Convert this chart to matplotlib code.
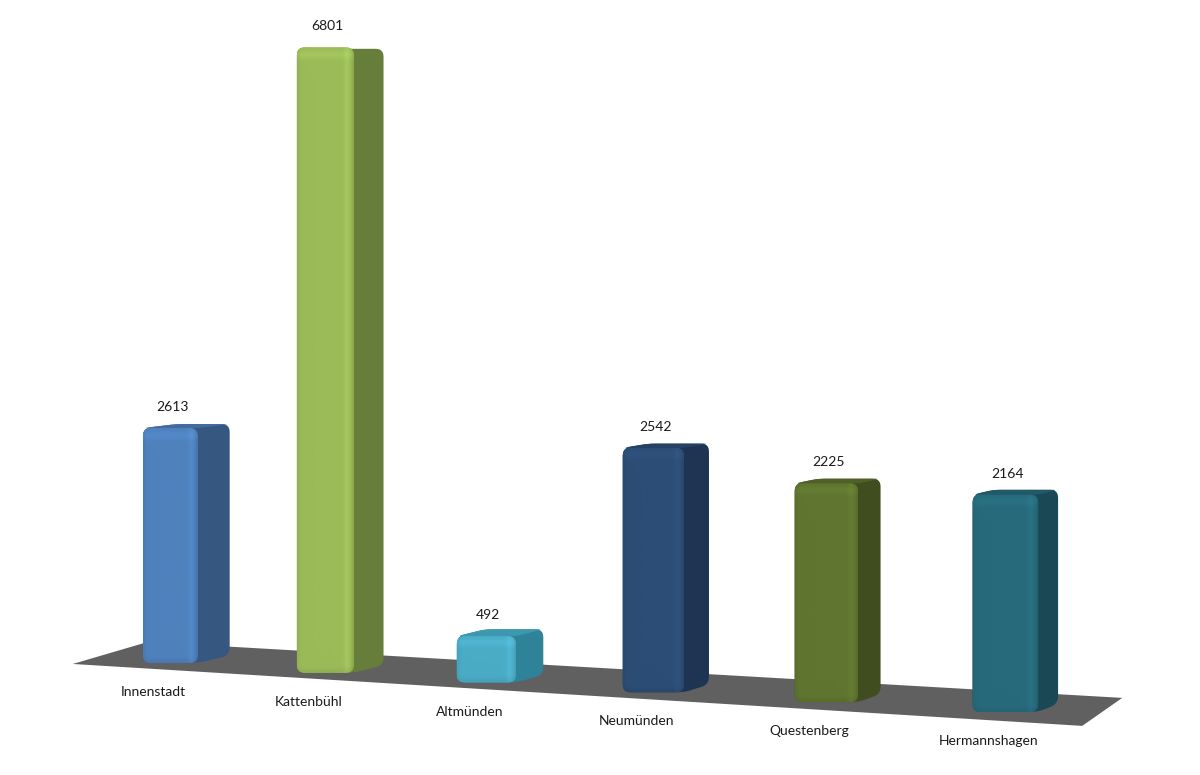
import numpy as np
import matplotlib.pyplot as plt
from matplotlib.patches import Polygon
from matplotlib.colors import to_rgb

categories = ['Innenstadt', 'Kattenbühl', 'Altmünden', 'Neumünden', 'Questenberg', 'Hermannshagen']
values = [2613, 6801, 492, 2542, 2225, 2164]
front_colors = ['#4F81BD', '#9BBB59', '#4BACC6', '#2C4D75', '#5F7530', '#276A7C']
side_colors = ['#36577F', '#677E3A', '#2F8398', '#1E3452', '#3F4D1F', '#1A4855']
floor_color = '#606060'

plt.rcParams['font.family'] = ['Lato', 'DejaVu Sans']


# pseudo 3D projection of the chart scene into pixel space
def x_front(u):
    return 95 + 149 * u + 3.0 * u ** 2


def y_base(u):
    return 658 + 9.8 * u


def v_scale(u):
    return 0.0888 + 0.0021 * u


def to_back(x, y, d=0.01427):
    return x + d * (2438 - x), y + d * (150 - y)


def rounded(pts, r):
    pts = np.asarray(pts, float)
    n = len(pts)
    out = []
    t = np.linspace(0, 1, 8)[:, None]
    for k in range(n):
        p0, p1, p2 = pts[k - 1], pts[k], pts[(k + 1) % n]
        l0 = np.linalg.norm(p0 - p1)
        l2 = np.linalg.norm(p2 - p1)
        if l0 < 1e-6 or l2 < 1e-6:
            out.append(p1[None, :])
            continue
        a = p1 + (p0 - p1) / l0 * min(r, l0 / 2)
        b = p1 + (p2 - p1) / l2 * min(r, l2 / 2)
        out.append((1 - t) ** 2 * a + 2 * (1 - t) * t * p1 + t ** 2 * b)
    return np.vstack(out)


fig = plt.figure(figsize=(12, 7.75), dpi=100)
ax = fig.add_axes([0, 0, 1, 1])
ax.set_xlim(0, 1200)
ax.set_ylim(775, 0)
ax.axis('off')

# floor
u0, u1 = -0.15, 5.92
fl = (x_front(u0), y_base(u0) + 7.5 + 0.4 * u0)
fr = (x_front(u1), y_base(u1) + 7.5 + 0.4 * u1)
bl = (fl[0] + 75, fl[1] - 22)
br = (fr[0] + 40, fr[1] - 28)
ax.add_patch(Polygon([fl, fr, br, bl], closed=True, fc=floor_color, ec='none', zorder=1))

hw = 0.18
for i, (cat, val) in enumerate(zip(categories, values)):
    uc = i + 0.5
    xl, xr = x_front(uc - hw), x_front(uc + hw)
    yb = y_base(uc)
    yt = yb - val * v_scale(uc)

    blt = to_back(xl, yt)
    brt = to_back(xr, yt)
    brb = to_back(xr, yb)

    # side silhouette
    sil = [(xl, yb), (xl, yt), blt, brt, brb, (xr, yb)]
    ax.add_patch(Polygon(rounded(sil, 8), closed=True, fc=side_colors[i], ec='none', zorder=2))

    # top face
    if brt[1] < yt:
        top = [(xl, yt), (xr, yt), brt, blt]
        topc = 0.5 * np.array(to_rgb(side_colors[i])) + 0.5 * np.array(to_rgb(front_colors[i]))
        ax.add_patch(Polygon(rounded(top, 6), closed=True, fc=topc, ec='none', zorder=3))

    # front face with soft bevel shading
    front = Polygon(rounded([(xl, yb), (xl, yt), (xr, yt), (xr, yb)], 8),
                    closed=True, fc=front_colors[i], ec='none', zorder=4)
    ax.add_patch(front)
    h = yb - yt
    s = np.linspace(0, 1, 80)
    fx = (1.0 + 0.06 * np.exp(-((s - 0.88) / 0.05) ** 2)
          - 0.10 * np.exp(-((s - 1.0) / 0.04) ** 2)
          - 0.05 * np.exp(-(s / 0.05) ** 2))
    ypx = np.linspace(0, h, max(int(h), 2))
    gy = (1.0 + 0.06 * np.exp(-((ypx - 7) / 4.0) ** 2)
          - 0.06 * np.exp(-((ypx - h) / 4.0) ** 2))
    img = np.clip(np.array(to_rgb(front_colors[i]))[None, None, :]
                  * fx[None, :, None] * gy[:, None, None], 0, 1)
    im = ax.imshow(img, extent=(xl, xr, yb, yt), origin='upper', aspect='auto',
                   interpolation='bilinear', zorder=5)
    im.set_clip_path(front)

    ax.text(x_front(uc) + 2, yt - 21, str(val), ha='center', va='center',
            fontsize=10, color='#1a1a1a', zorder=10)
    ax.text(x_front(uc) - 17, yb + 29, cat, ha='center', va='center',
            fontsize=10, color='#1a1a1a', zorder=10)

ax.set_xlim(0, 1200)
ax.set_ylim(775, 0)
fig.savefig('out.png', dpi=100, facecolor='white')
